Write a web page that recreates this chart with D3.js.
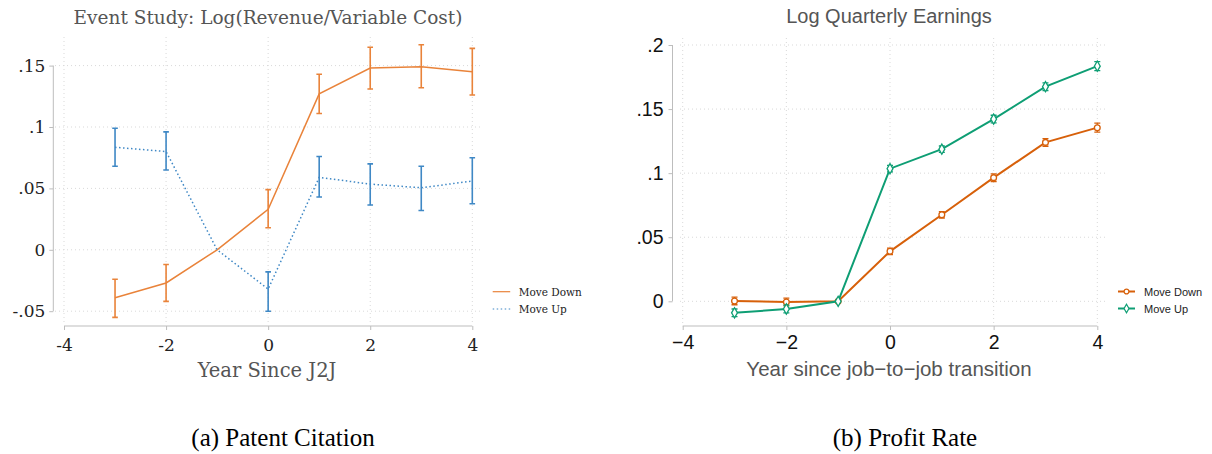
<!DOCTYPE html>
<html>
<head>
<meta charset="utf-8">
<script src="https://cdn.jsdelivr.net/npm/d3@7"></script>
<style>
  body { margin: 0; background: #fff; }
  svg { display: block; }
</style>
</head>
<body>
<div id="chart"></div>
<script>
// data
const years = [-3, -2, -1, 0, 1, 2, 3, 4]

// panel a: Log(Revenue/Variable Cost)
const aDown   = [-0.039, -0.027, 0, 0.033, 0.127, 0.148, 0.149, 0.145]
const aDownLo = [-0.055, -0.042, null, 0.018, 0.111, 0.131, 0.132, 0.126]
const aDownHi = [-0.024, -0.012, null, 0.049, 0.143, 0.165, 0.167, 0.164]
const aUp     = [0.0835, 0.080, 0, -0.032, 0.059, 0.0535, 0.0505, 0.056]
const aUpLo   = [0.068, 0.065, null, -0.050, 0.043, 0.0365, 0.032, 0.0375]
const aUpHi   = [0.099, 0.096, null, -0.018, 0.076, 0.070, 0.068, 0.075]
const aYTicks = [-0.05, 0, 0.05, 0.1, 0.15]
const aYLabels = ["-.05", "0", ".05", ".1", ".15"]

// panel b: Log Quarterly Earnings
const bDown   = [0.0003, -0.0005, 0, 0.039, 0.0675, 0.0965, 0.124, 0.1355]
const bDownSe = [0.003, 0.003, 0, 0.0025, 0.0025, 0.003, 0.003, 0.0035]
const bUp     = [-0.009, -0.006, 0, 0.1035, 0.1187, 0.1422, 0.1675, 0.1835]
const bUpSe   = [0.003, 0.003, 0, 0.0025, 0.0025, 0.003, 0.003, 0.0035]
const bYTicks = [0, 0.05, 0.1, 0.15, 0.2]
const bYLabels = ["0", ".05", ".1", ".15", ".2"]

const xTicks = [-4, -2, 0, 2, 4]
const legendNames = ["Move Down", "Move Up"]

const W = 1212, H = 454
const svg = d3.select("#chart").append("svg")
  .attr("width", W)
  .attr("height", H)

const gridColor = "#d9d9d9"
const axisColor = "#bdbdbd"

// ---------- panel a ----------
{
  const font = "DejaVu Serif"
  const x = d3.scaleLinear().domain([-4, 4]).range([64, 472.3])
  const y = d3.scaleLinear().domain([-0.05, 0.15]).range([311.2, 65.6])
  const g = svg.append("g")
  const orange = "#e9833a", blue = "#3f88c5"

  // grid
  g.selectAll(".hg").data(aYTicks).join("line")
    .attr("x1", 55).attr("x2", 480)
    .attr("y1", d => y(d)).attr("y2", d => y(d))
    .attr("stroke", gridColor).attr("stroke-dasharray", "1,3")
  g.selectAll(".vg").data(xTicks).join("line")
    .attr("x1", d => x(d)).attr("x2", d => x(d))
    .attr("y1", 37).attr("y2", 323)
    .attr("stroke", gridColor).attr("stroke-dasharray", "1,3")

  // y axis
  const yAxis = d3.axisLeft(y).tickValues(aYTicks)
    .tickFormat((d, i) => aYLabels[i]).tickSize(4).tickPadding(4)
  g.append("g").attr("transform", "translate(53.3,0)").call(yAxis)
    .call(a => {
      a.attr("font-family", font)
      a.select(".domain").attr("stroke", axisColor).attr("d", `M0,${y(0.15)}V${y(-0.05)}`)
      a.selectAll(".tick line").attr("stroke", axisColor)
      a.selectAll("text").attr("font-family", font).attr("font-size", 17).attr("fill", "#222")
    })

  // x axis
  const xAxis = d3.axisBottom(x).tickValues(xTicks).tickFormat(d => String(d))
    .tickSize(4).tickPadding(9)
  g.append("g").attr("transform", "translate(0,326)").call(xAxis)
    .call(a => {
      a.attr("font-family", font)
      a.select(".domain").attr("stroke", axisColor).attr("d", `M${x(-4)},0H${x(4)}`)
      a.selectAll(".tick line").attr("stroke", axisColor)
      a.selectAll("text").attr("font-family", font).attr("font-size", 17).attr("fill", "#222")
    })

  const line = d3.line().x((d, i) => x(years[i])).y(d => y(d))

  g.append("path").datum(aDown).attr("d", line)
    .attr("fill", "none").attr("stroke", orange).attr("stroke-width", 1.5)
  g.append("path").datum(aUp).attr("d", line)
    .attr("fill", "none").attr("stroke", blue).attr("stroke-width", 1.5)
    .attr("stroke-dasharray", "1.5,2.5")

  const bars = (lo, hi, col) => {
    const idx = years.map((d, i) => i).filter(i => lo[i] !== null)
    g.selectAll(null).data(idx).join("path")
      .attr("d", i => {
        const cx = x(years[i]), y0 = y(lo[i]), y1 = y(hi[i])
        return `M${cx},${y0}V${y1}M${cx - 2.8},${y0}H${cx + 2.8}M${cx - 2.8},${y1}H${cx + 2.8}`
      })
      .attr("fill", "none").attr("stroke", col).attr("stroke-width", 1.6)
  }
  bars(aDownLo, aDownHi, orange)
  bars(aUpLo, aUpHi, blue)

  g.append("text").attr("x", 268).attr("y", 24).attr("text-anchor", "middle")
    .attr("font-family", font).attr("font-size", 18.5).attr("fill", "#555")
    .text("Event Study: Log(Revenue/Variable Cost)")
  g.append("text").attr("x", 267).attr("y", 377).attr("text-anchor", "middle")
    .attr("font-family", font).attr("font-size", 19.5).attr("fill", "#555")
    .text("Year Since J2J")

  // legend
  const lg = g.append("g").attr("transform", "translate(492.7,291.7)")
  lg.selectAll("line").data(legendNames).join("line")
    .attr("x1", 0).attr("x2", 17.5)
    .attr("y1", (d, i) => i * 17.3).attr("y2", (d, i) => i * 17.3)
    .attr("stroke", (d, i) => i ? blue : orange).attr("stroke-width", 1.2)
    .attr("stroke-dasharray", (d, i) => i ? "1.5,2.5" : null)
  lg.selectAll("text").data(legendNames).join("text")
    .attr("x", 26).attr("y", (d, i) => i * 17.3 + 3.8)
    .attr("font-family", font).attr("font-size", 10.5).attr("fill", "#222")
    .text(d => d)
}

// ---------- panel b ----------
{
  const font = "Liberation Sans"
  const x = d3.scaleLinear().domain([-4, 4]).range([682.7, 1097.3])
  const y = d3.scaleLinear().domain([0, 0.2]).range([301.3, 45])
  const g = svg.append("g")
  const orange = "#d7600a", green = "#0e9e74"

  g.selectAll(".hg").data(bYTicks).join("line")
    .attr("x1", 680).attr("x2", 1105)
    .attr("y1", d => y(d)).attr("y2", d => y(d))
    .attr("stroke", gridColor).attr("stroke-dasharray", "1,3")
  g.selectAll(".vg").data(xTicks).join("line")
    .attr("x1", d => x(d)).attr("x2", d => x(d))
    .attr("y1", 38).attr("y2", 323)
    .attr("stroke", gridColor).attr("stroke-dasharray", "1,3")

  const yAxis = d3.axisLeft(y).tickValues(bYTicks)
    .tickFormat((d, i) => bYLabels[i]).tickSize(4).tickPadding(5)
  g.append("g").attr("transform", "translate(672.5,0)").call(yAxis)
    .call(a => {
      a.select(".domain").attr("stroke", axisColor).attr("d", `M0,${y(0.2)}V${y(0)}`)
      a.selectAll(".tick line").attr("stroke", axisColor)
      a.selectAll("text").attr("font-family", font).attr("font-size", 19.5).attr("fill", "#111")
    })

  const xAxis = d3.axisBottom(x).tickValues(xTicks)
    .tickFormat(d => d < 0 ? "\u2212" + Math.abs(d) : d).tickSize(4).tickPadding(5)
  g.append("g").attr("transform", "translate(0,326)").call(xAxis)
    .call(a => {
      a.select(".domain").attr("stroke", axisColor).attr("d", `M${x(-4)},0H${x(4)}`)
      a.selectAll(".tick line").attr("stroke", axisColor)
      a.selectAll("text").attr("font-family", font).attr("font-size", 19.5).attr("fill", "#111")
    })

  const line = d3.line().x((d, i) => x(years[i])).y(d => y(d))
  const series = [
    { v: bDown, se: bDownSe, col: orange, shape: d3.symbolCircle, size: 26 },
    { v: bUp, se: bUpSe, col: green, shape: d3.symbolDiamond, size: 30 }
  ]

  series.forEach(s => {
    g.append("path").datum(s.v).attr("d", line)
      .attr("fill", "none").attr("stroke", s.col).attr("stroke-width", 2)
    g.selectAll(null).data(years.map((d, i) => i).filter(i => s.se[i] > 0)).join("path")
      .attr("d", i => {
        const cx = x(years[i]), y0 = y(s.v[i] - s.se[i]), y1 = y(s.v[i] + s.se[i])
        return `M${cx},${y0}V${y1}M${cx - 3},${y0}H${cx + 3}M${cx - 3},${y1}H${cx + 3}`
      })
      .attr("fill", "none").attr("stroke", s.col).attr("stroke-width", 1.3)
    g.selectAll(null).data(s.v).join("path")
      .attr("transform", (d, i) => `translate(${x(years[i])},${y(d)})`)
      .attr("d", d3.symbol(s.shape, s.size))
      .attr("fill", "#fff").attr("stroke", s.col).attr("stroke-width", 1.3)
  })

  g.append("text").attr("x", 889).attr("y", 23).attr("text-anchor", "middle")
    .attr("font-family", font).attr("font-size", 20).attr("fill", "#555")
    .text("Log Quarterly Earnings")
  g.append("text").attr("x", 889).attr("y", 376).attr("text-anchor", "middle")
    .attr("font-family", font).attr("font-size", 20.5).attr("fill", "#555")
    .text("Year since job\u2212to\u2212job transition")

  const lg = g.append("g").attr("transform", "translate(1118,291.5)")
  series.forEach((s, i) => {
    lg.append("line").attr("x1", 0).attr("x2", 17).attr("y1", i * 17).attr("y2", i * 17)
      .attr("stroke", s.col).attr("stroke-width", 2)
    lg.append("path").attr("transform", `translate(8.5,${i * 17})`)
      .attr("d", d3.symbol(s.shape, s.size * 0.7))
      .attr("fill", "#fff").attr("stroke", s.col).attr("stroke-width", 1.2)
    lg.append("text").attr("x", 26).attr("y", i * 17 + 4)
      .attr("font-family", font).attr("font-size", 11).attr("fill", "#222")
      .text(legendNames[i])
  })
}

// captions
svg.append("text").attr("x", 283).attr("y", 446).attr("text-anchor", "middle")
  .attr("font-family", "Liberation Serif").attr("font-size", 25).attr("fill", "#000")
  .text("(a) Patent Citation")
svg.append("text").attr("x", 905).attr("y", 446).attr("text-anchor", "middle")
  .attr("font-family", "Liberation Serif").attr("font-size", 25).attr("fill", "#000")
  .text("(b) Profit Rate")
</script>
</body>
</html>
